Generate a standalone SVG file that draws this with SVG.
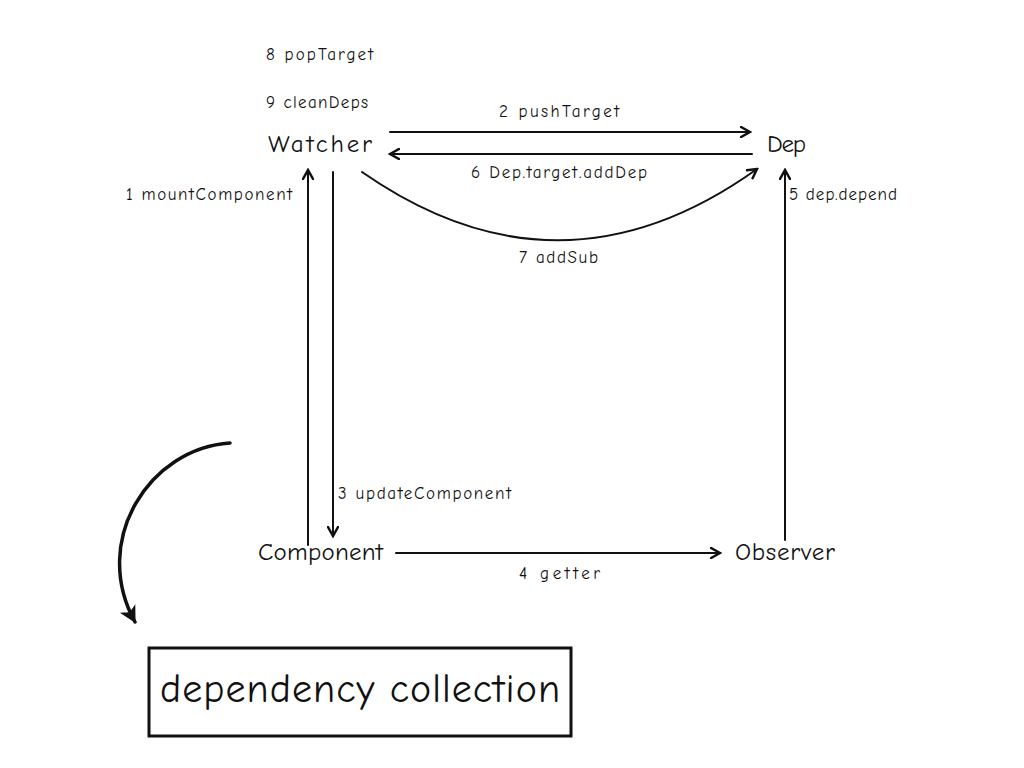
<svg xmlns="http://www.w3.org/2000/svg" width="1024" height="768" viewBox="0 0 1024 768">
<style>
text{font-family:"Comic Neue","Liberation Sans","DejaVu Sans",sans-serif;fill:#111}
.s{font-size:17px}
.n{font-size:25px}
.e{stroke:#111;stroke-width:2;fill:none;stroke-linecap:round}
</style>
<defs>
<marker id="ah" viewBox="0 0 12 12" refX="10" refY="6" markerWidth="12" markerHeight="12" markerUnits="userSpaceOnUse" orient="auto">
<path d="M1,1 L10,6 L1,11" fill="none" stroke="#111" stroke-width="2.5" stroke-linecap="round"/>
</marker>
<marker id="big" viewBox="0 0 20 20" refX="16" refY="10" markerWidth="22" markerHeight="22" markerUnits="userSpaceOnUse" orient="auto">
<path d="M2,2 L17,10 L2,18 L6,10 Z" fill="#111"/>
</marker>
</defs>
<rect width="1024" height="768" fill="#fff"/>
<g id="connectors">
<path class="e" d="M390,132 L750,132" marker-end="url(#ah)"/>
<path class="e" d="M752,154 L390,154" marker-end="url(#ah)"/>
<path class="e" d="M362,172 Q560,310 757,169" marker-end="url(#ah)"/>
<path class="e" d="M308,545 L308,170" marker-end="url(#ah)"/>
<path class="e" d="M333,172 L333,536" marker-end="url(#ah)"/>
<path class="e" d="M396,553 L720,553" marker-end="url(#ah)"/>
<path class="e" d="M785,540 L785,170" marker-end="url(#ah)"/>
<path d="M230,443 C150,448 90,540 135,622" stroke="#111" stroke-width="3.5" fill="none" stroke-linecap="round" marker-end="url(#big)"/>
</g>
<g id="labels">
<text class="s" x="266" y="60" textLength="107">8 popTarget</text>
<text class="s" x="266" y="108" textLength="102">9 cleanDeps</text>
<text class="s" x="499" y="117" textLength="120">2 pushTarget</text>
<text class="s" x="471" y="178" textLength="176">6 Dep.target.addDep</text>
<text class="s" x="519" y="263" textLength="79">7 addSub</text>
<text class="s" x="126" y="200" textLength="166">1 mountComponent</text>
<text class="s" x="338" y="499" textLength="173">3 updateComponent</text>
<text class="s" x="519" y="579" textLength="81">4 getter</text>
<text class="s" x="789" y="200" textLength="108">5 dep.depend</text>
</g>
<g id="watcher"><text class="n" x="268" y="152" textLength="104">Watcher</text></g>
<g id="dep"><text class="n" x="767" y="152" textLength="39">Dep</text></g>
<g id="component"><text class="n" x="258" y="560" textLength="125">Component</text></g>
<g id="observer"><text class="n" x="735" y="560" textLength="100">Observer</text></g>
<g id="title">
<rect x="149" y="648" width="422" height="88" fill="none" stroke="#111" stroke-width="3"/>
<text x="160" y="702" textLength="400" style="font-size:40px">dependency collection</text>
</g>
</svg>
